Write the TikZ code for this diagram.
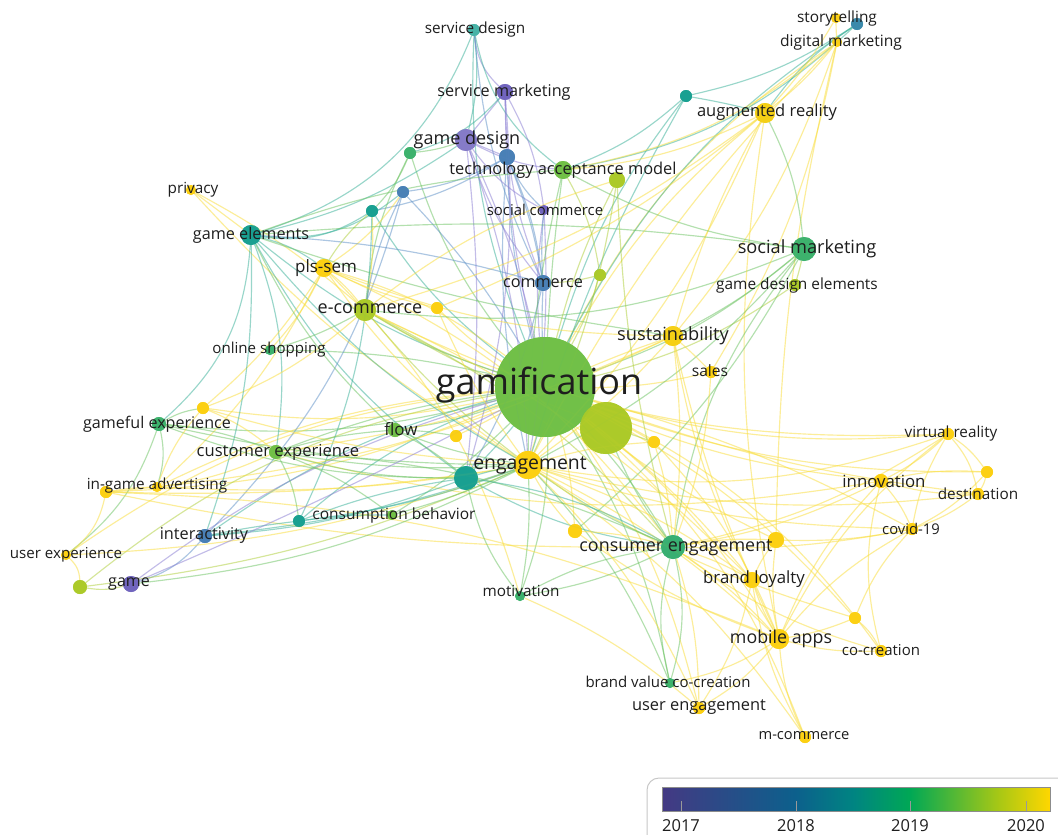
\documentclass[tikz,border=0pt]{standalone}
\usepackage{fontspec}
\setmainfont{Open Sans}
\newcommand\kwfs[1]{\fontsize{#1}{#1}\selectfont}
% overlay palette (publication year)
\definecolor{yA}{RGB}{68,57,131}
\definecolor{yB}{RGB}{12,96,140}
\definecolor{yBB}{RGB}{0,132,130}
\definecolor{yC}{RGB}{0,168,85}
\definecolor{yCC}{RGB}{170,200,20}
\definecolor{yD}{RGB}{255,215,0}
% node fills
\definecolor{nPur}{RGB}{112,100,190}
\definecolor{nBlu}{RGB}{72,128,182}
\definecolor{nTea}{RGB}{24,160,145}
\definecolor{nGrn}{RGB}{60,178,108}
\definecolor{nLgr}{RGB}{112,192,70}
\definecolor{nYgr}{RGB}{172,202,40}
\definecolor{nYel}{RGB}{252,208,18}
% edge colours
\definecolor{ey}{RGB}{250,222,60}
\definecolor{eg}{RGB}{110,196,100}
\definecolor{et}{RGB}{60,178,155}
\definecolor{ep}{RGB}{140,128,212}
\definecolor{eb}{RGB}{96,146,200}
\definecolor{eyg}{RGB}{176,208,60}
\definecolor{txt}{RGB}{30,30,30}
\tikzset{
  bub/.style={circle,inner sep=0pt,fill opacity=.92,draw=none},
  lbl/.style={text=txt,inner sep=0pt,font=\kwfs{15}},
  link/.style={line width=1.15pt,draw opacity=.52},
  yrlbl/.style={text=txt,inner sep=0pt,font=\kwfs{16.5}}
}
\begin{document}
\begin{tikzpicture}[x=1pt,y=-1pt]
\useasboundingbox (0,0) rectangle (1058,835);
\fill[white] (0,0) rectangle (1058,835);

% ---------- keywords ----------
\node[bub,fill=nLgr,minimum size=100pt,fill opacity=.88] (gam) at (545,387) {};
\node[bub,fill=nYgr,minimum size=52pt] (big2) at (606,428) {};
\node[bub,fill=nYel,minimum size=28pt] (eng) at (528,465) {};
\node[bub,fill=nTea,minimum size=24pt] (engt) at (466,478) {};
\node[bub,fill=nGrn!85!nTea,minimum size=24pt] (ce) at (673,547) {};
\node[bub,fill=nGrn,minimum size=24pt] (sm) at (804,249) {};
\node[bub,fill=nPur!85!white,minimum size=22pt] (gd) at (466,140) {};
\node[bub,fill=nPur,minimum size=16pt] (svm) at (505,92) {};
\node[bub,fill=nTea!80!white,minimum size=12pt] (sd) at (474,30) {};
\node[bub,fill=nBlu,minimum size=16pt] (tb) at (507,157) {};
\node[bub,fill=nLgr,minimum size=18pt] (tam) at (563,170) {};
\node[bub,fill=nYgr,minimum size=16pt] (tam2) at (617,180) {};
\node[bub,fill=nGrn,minimum size=12pt] (g1) at (410,153) {};
\node[bub,fill=nBlu,minimum size=12pt] (b1) at (403,192) {};
\node[bub,fill=nTea,minimum size=12pt] (t1) at (372,211) {};
\node[bub,fill=nYel,minimum size=10pt] (priv) at (191,190) {};
\node[bub,fill=nTea,minimum size=20pt] (ge) at (251,235) {};
\node[bub,fill=nYel,minimum size=18pt] (pls) at (324,268) {};
\node[bub,fill=nYgr,minimum size=22pt] (ecom) at (365,310) {};
\node[bub,fill=nYel,minimum size=12pt] (y1) at (437,308) {};
\node[bub,fill=nGrn,minimum size=10pt] (os) at (270,350) {};
\node[bub,fill=nPur,minimum size=10pt] (sc) at (544,210) {};
\node[bub,fill=nBlu,minimum size=16pt] (com) at (543,283) {};
\node[bub,fill=nYgr,minimum size=12pt] (yg1) at (600,275) {};
\node[bub,fill=nTea,minimum size=12pt] (t2) at (686,96) {};
\node[bub,fill=nYel!90!nYgr,minimum size=20pt] (ar) at (765,113) {};
\node[bub,fill=nYel,minimum size=10pt] (st) at (836,18) {};
\node[bub,fill=nBlu!70!nTea,minimum size=12pt] (st2) at (857,24) {};
\node[bub,fill=nYel,minimum size=10pt] (dm) at (837,42) {};
\node[bub,fill=nYgr,minimum size=12pt] (gde) at (795,285) {};
\node[bub,fill=nYel!92!nYgr,minimum size=20pt] (sus) at (673,336) {};
\node[bub,fill=nYel,minimum size=12pt] (sales) at (711,372) {};
\node[bub,fill=nGrn,minimum size=14pt] (gfe) at (159,424) {};
\node[bub,fill=nYel,minimum size=12pt] (y2) at (203,408) {};
\node[bub,fill=nLgr,minimum size=14pt] (flow) at (395,430) {};
\node[bub,fill=nYel,minimum size=12pt] (y3) at (456,436) {};
\node[bub,fill=nLgr,minimum size=14pt] (cx) at (276,452) {};
\node[bub,fill=nYel,minimum size=12pt] (y4) at (654,442) {};
\node[bub,fill=nYel,minimum size=12pt] (iga) at (106,492) {};
\node[bub,fill=nYel,minimum size=10pt] (iga2) at (157,487) {};
\node[bub,fill=nTea,minimum size=12pt] (cb) at (299,521) {};
\node[bub,fill=nLgr,minimum size=10pt] (cb2) at (392,515) {};
\node[bub,fill=nBlu,minimum size=14pt] (inter) at (205,536) {};
\node[bub,fill=nYel,minimum size=10pt] (ux) at (66,555) {};
\node[bub,fill=nYgr,minimum size=14pt] (yg2) at (80,587) {};
\node[bub,fill=nPur,minimum size=16pt] (game) at (131,584) {};
\node[bub,fill=nGrn,minimum size=10pt] (mot) at (520,596) {};
\node[bub,fill=nYel,minimum size=14pt] (y5) at (575,531) {};
\node[bub,fill=nYel,minimum size=16pt] (y6) at (776,540) {};
\node[bub,fill=nYel,minimum size=16pt] (bl) at (752,580) {};
\node[bub,fill=nYel,minimum size=12pt] (vr) at (948,434) {};
\node[bub,fill=nYel,minimum size=12pt] (y7) at (987,472) {};
\node[bub,fill=nYel,minimum size=14pt] (inn) at (881,481) {};
\node[bub,fill=nYel,minimum size=12pt] (dest) at (978,494) {};
\node[bub,fill=nYel,minimum size=12pt] (cov) at (912,529) {};
\node[bub,fill=nYel,minimum size=12pt] (y8) at (855,618) {};
\node[bub,fill=nYel,minimum size=20pt] (ma) at (779,639) {};
\node[bub,fill=nYel,minimum size=12pt] (cc) at (881,651) {};
\node[bub,fill=nGrn,minimum size=10pt] (bvc) at (670,683) {};
\node[bub,fill=nYel,minimum size=12pt] (ue) at (699,708) {};
\node[bub,fill=nYel,minimum size=12pt] (mc) at (805,737) {};

% ---------- links ----------
\foreach \a/\b/\bd/\c in {
  gam/sd/12/et, gam/svm/6/ep, gam/gd/-6/ep, gam/tb/6/eb, gam/tam/2/eg, gam/tam2/6/eyg,
  gam/g1/10/eg, gam/b1/-6/eb, gam/t1/10/et, gam/ge/10/et, gam/pls/-10/ey, gam/ecom/6/eyg,
  gam/y1/6/ey, gam/os/-6/eg, gam/sc/6/ep, gam/com/2/eb, gam/yg1/-6/eyg, gam/t2/10/et,
  gam/ar/10/ey, gam/dm/14/ey, gam/st2/14/et, gam/sm/-10/eg, gam/gde/-10/eyg, gam/sus/2/ey,
  gam/sales/-6/ey, gam/gfe/10/eg, gam/y2/10/ey, gam/flow/6/eg, gam/y3/2/ey, gam/cx/-6/eg,
  gam/eng/2/ey, gam/engt/2/et, gam/y4/2/ey, gam/iga/10/ey, gam/iga2/-10/ey, gam/cb/-10/et,
  gam/cb2/6/eg, gam/inter/-10/et, gam/ux/-14/ey, gam/yg2/-14/eyg, gam/game/-10/ep,
  gam/mot/10/eg, gam/y5/6/ey, gam/ce/6/eg, gam/y6/-6/ey, gam/bl/6/ey, gam/vr/-10/ey,
  gam/y7/-10/ey, gam/inn/-8/ey, gam/dest/-6/ey, gam/cov/6/ey, gam/y8/10/ey, gam/ma/10/ey,
  gam/cc/14/ey, gam/bvc/10/eg, gam/ue/10/ey, gam/mc/14/ey,
  priv/ecom/6/ey, priv/eng/-8/ey, priv/ge/0/ey,
  sd/gd/10/et, sd/svm/-20/ep, sd/tam/-20/et, sd/ge/25/et, sd/com/-10/eb,
  svm/gd/0/ep, svm/com/-10/ep, svm/sc/10/ep, svm/engt/10/ep, svm/g1/15/et,
  gd/com/-10/ep, gd/engt/6/ep, gd/tb/0/ep, gd/tam/-10/ep, gd/ge/10/et, gd/g1/6/eg, gd/sc/-12/ep,
  gd/eng/8/ep, tb/sc/-10/eb, tb/com/6/eb, tb/b1/10/eb, tb/t1/10/eb, tb/eng/-8/eb,
  ge/t1/-20/et, ge/b1/-22/et, ge/pls/10/et, ge/gfe/22/et, ge/eng/-10/et, ge/sus/-5/eg,
  ge/cx/14/et, ge/engt/-12/et,
  g1/t1/10/eg, g1/ecom/-10/eg, t1/ecom/6/ey, t1/cb/12/et, b1/inter/14/eb, t1/pls/-8/eyg,
  pls/ecom/6/ey, pls/eng/-10/ey, pls/sus/-10/ey, pls/ce/14/ey, pls/mot/14/ey, pls/iga2/10/ey,
  pls/y2/8/ey, pls/os/8/ey, pls/b1/-10/ey,
  ecom/os/6/eg, ecom/eng/-6/eyg, ecom/sm/-14/eg, ecom/y4/-6/eyg, ecom/ce/10/eyg, ecom/b1/8/eb,
  t2/ar/2/et, t2/st2/-10/et, t2/tam/10/et, t2/eng/-6/et,
  st2/ar/-10/et, st2/tam/16/et, dm/ar/6/ey, dm/sus/10/ey, dm/sales/10/ey, dm/st/2/ey,
  st/ar/6/ey, dm/y6/-6/ey, dm/tam/14/ey, dm/eng/-8/ey,
  ar/tam/10/ey, ar/sm/10/eg, ar/sus/-6/ey, ar/eng/10/ey, ar/ma/-10/ey, ar/y1/8/ey, ar/ecom/10/ey,
  sm/sus/6/eg, sm/eng/10/eg, sm/ce/-14/eg, sm/tam/10/eg, sm/gde/2/eyg, sm/y5/10/eg, sm/ge/-6/eg,
  sus/sales/2/ey, sus/ce/6/ey, sus/ma/-6/ey, sus/eng/6/ey, sus/bl/-8/ey, sus/cx/8/ey,
  vr/y7/10/ey, vr/dest/14/ey, vr/inn/8/ey, vr/cov/-10/ey, vr/eng/14/ey, vr/ce/10/ey, vr/ecom/14/ey,
  vr/ma/-12/ey, y7/dest/8/ey, y7/inn/-8/ey, y7/cov/10/ey, inn/dest/-8/ey, inn/cov/8/ey,
  inn/ce/8/ey, inn/ma/-10/ey, inn/cx/12/ey, dest/cov/8/ey, dest/eng/10/ey, cov/ma/-10/ey,
  cov/y6/6/ey, cov/ce/6/ey, cov/eng/8/ey, cov/y8/-10/ey, y8/ma/6/ey, y8/cc/10/ey, y8/eng/8/ey,
  cc/ma/8/ey, cc/ce/10/ey, cc/inn/14/ey,
  ma/bl/6/ey, ma/ce/-6/ey, ma/y6/8/ey, ma/ue/10/ey, ma/mc/-10/ey, ma/eng/-8/ey, ma/y5/8/ey,
  ma/bvc/10/ey, ma/iga/-10/ey,
  ce/bvc/14/eg, ce/bvc/-14/eg, ce/ue/8/ey, ce/y6/6/ey, ce/bl/6/ey, ce/eng/6/eg, ce/engt/10/et,
  ce/big2/6/eg, ce/cx/-10/eg, ce/sales/-8/ey, ce/mot/-10/eg,
  bl/y6/6/ey, bl/eng/-8/ey, bl/ue/10/ey, bl/mc/-10/ey, bl/ecom/-10/ey,
  ue/eng/-10/ey, mc/eng/-10/ey, bvc/eng/-10/eg, ue/mot/-8/ey,
  gfe/y2/10/eg, gfe/iga2/14/eg, gfe/ux/16/eg, gfe/cx/8/eg, gfe/eng/-6/eg, gfe/engt/-10/eg,
  y2/iga2/-10/ey, y2/eng/-6/ey, y2/cx/8/ey, y2/ecom/-10/ey,
  iga/ux/20/ey, iga/iga2/4/ey, iga/eng/-5/ey, iga/sus/-10/ey, iga2/eng/-6/ey, iga2/cx/-8/ey,
  iga/ce/-6/ey,
  cx/eng/-6/eg, cx/engt/-8/eg, cx/cb/10/eg, cx/flow/6/eg, cx/cb2/8/eg,
  inter/cb/2/et, inter/game/16/eb, inter/eng/-6/et, inter/engt/-8/et, inter/ge/-10/et,
  ux/yg2/22/ey, ux/eng/-8/ey, yg2/game/-12/eyg, yg2/eng/-8/eyg, game/eng/-10/eg, game/gam/-2/ep,
  cb/engt/6/et, cb/eng/-6/et, cb/cb2/4/et, cb2/eng/-4/eg,
  flow/eng/-6/eg, flow/engt/6/eg, flow/y3/4/eg, flow/ge/10/eg,
  mot/engt/12/eg, mot/eng/-6/eg, mot/ce/-8/eg,
  engt/ce/10/et, engt/eng/4/et, y5/eng/6/ey, y5/ce/6/ey, y4/eng/-6/ey, y4/ce/6/ey, y4/ma/10/ey,
  yg1/com/6/eyg, yg1/tam/-10/eyg, com/sc/4/eb, com/engt/8/eb, com/tb/-8/eb, com/ge/-6/eb,
  y1/pls/6/ey, y1/eng/-6/ey, sc/eng/6/ep, tam/eng/-6/eg, tam2/eng/8/eyg, tam2/ce/-6/eyg,
  tam/ge/-8/eg, tam2/ecom/-10/ey}
  {\draw[link,\c] (\a) to[bend left=\bd] (\b);}

% ---------- circles redrawn on top of links ----------
\foreach \n/\s/\f in {gam/100/nLgr, big2/52/nYgr, eng/28/nYel, engt/24/nTea, ce/24/nGrn!85!nTea,
  sm/24/nGrn, gd/22/nPur!85!white, svm/16/nPur, sd/12/nTea!80!white, tb/16/nBlu, tam/18/nLgr,
  tam2/16/nYgr, g1/12/nGrn, b1/12/nBlu, t1/12/nTea, priv/10/nYel, ge/20/nTea, pls/18/nYel,
  ecom/22/nYgr, y1/12/nYel, os/10/nGrn, sc/10/nPur, com/16/nBlu, yg1/12/nYgr, t2/12/nTea,
  ar/20/nYel!90!nYgr, st/10/nYel, st2/12/nBlu!70!nTea, dm/10/nYel, gde/12/nYgr,
  sus/20/nYel!92!nYgr, sales/12/nYel, gfe/14/nGrn, y2/12/nYel, flow/14/nLgr, y3/12/nYel,
  cx/14/nLgr, y4/12/nYel, iga/12/nYel, iga2/10/nYel, cb/12/nTea, cb2/10/nLgr, inter/14/nBlu,
  ux/10/nYel, yg2/14/nYgr, game/16/nPur, mot/10/nGrn, y5/14/nYel, y6/16/nYel, bl/16/nYel,
  vr/12/nYel, y7/12/nYel, inn/14/nYel, dest/12/nYel, cov/12/nYel, y8/12/nYel, ma/20/nYel,
  cc/12/nYel, bvc/10/nGrn, ue/12/nYel, mc/12/nYel}
  {\fill[\f,fill opacity=.9] (\n) circle[radius=\s/2];}

% ---------- labels ----------
\node[lbl,font=\kwfs{36}] (Lgam) at (539,385) {gamification};
\node[lbl,font=\kwfs{19.4}] (Leng) at (530,465) {engagement};
\node[lbl,font=\kwfs{17.9}] (Lce) at (676,548) {consumer engagement};
\node[lbl,font=\kwfs{18.2}] (Lsm) at (807,249) {social marketing};
\node[lbl,font=\kwfs{18}] (Lgd) at (467,140) {game design};
\node[lbl,font=\kwfs{16.2}] (Lsvm) at (504,92) {service marketing};
\node[lbl,font=\kwfs{15.3}] (Lsd) at (475,30) {service design};
\node[lbl,font=\kwfs{16.4}] (Ltam) at (563,170) {technology acceptance model};
\node[lbl,font=\kwfs{14.9}] (Lsc) at (545,210) {social commerce};
\node[lbl,font=\kwfs{15.3}] (Lpriv) at (193,190) {privacy};
\node[lbl,font=\kwfs{16.2}] (Lge) at (251,235) {game elements};
\node[lbl,font=\kwfs{17}] (Lpls) at (326,268) {pls-sem};
\node[lbl,font=\kwfs{18}] (Lecom) at (370,309) {e-commerce};
\node[lbl,font=\kwfs{15.1}] (Los) at (269,350) {online shopping};
\node[lbl,font=\kwfs{16.2}] (Lcom) at (543,283) {commerce};
\node[lbl,font=\kwfs{16.5}] (Lar) at (767,112) {augmented reality};
\node[lbl,font=\kwfs{15.4}] (Lst) at (837,18) {storytelling};
\node[lbl,font=\kwfs{15.6}] (Ldm) at (841,42) {digital marketing};
\node[lbl,font=\kwfs{15.4}] (Lgde) at (797,285) {game design elements};
\node[lbl,font=\kwfs{18.2}] (Lsus) at (673,336) {sustainability};
\node[lbl,font=\kwfs{15.6}] (Lsales) at (710,371) {sales};
\node[lbl,font=\kwfs{16.1}] (Lgfe) at (157,424) {gameful experience};
\node[lbl,font=\kwfs{17}] (Lflow) at (401,429) {flow};
\node[lbl,font=\kwfs{16.6}] (Lcx) at (278,452) {customer experience};
\node[lbl,font=\kwfs{15.3}] (Liga) at (157,486) {in-game advertising};
\node[lbl,font=\kwfs{15.5}] (Lcb) at (394,515) {consumption behavior};
\node[lbl,font=\kwfs{16.3}] (Linter) at (204,535) {interactivity};
\node[lbl,font=\kwfs{15.1}] (Lux) at (66,555) {user experience};
\node[lbl,font=\kwfs{16}] (Lgame) at (129,584) {game};
\node[lbl,font=\kwfs{15.3}] (Lmot) at (521,591) {motivation};
\node[lbl,font=\kwfs{16.8}] (Lbl) at (754,579) {brand loyalty};
\node[lbl,font=\kwfs{15.3}] (Lvr) at (951,434) {virtual reality};
\node[lbl,font=\kwfs{16.8}] (Linn) at (884,481) {innovation};
\node[lbl,font=\kwfs{15.3}] (Ldest) at (978,494) {destination};
\node[lbl,font=\kwfs{14.8}] (Lcov) at (911,529) {covid-19};
\node[lbl,font=\kwfs{17.8}] (Lma) at (781,639) {mobile apps};
\node[lbl,font=\kwfs{15}] (Lcc) at (881,650) {co-creation};
\node[lbl,font=\kwfs{15}] (Lbvc) at (668,682) {brand value co-creation};
\node[lbl,font=\kwfs{16.4}] (Lue) at (699,707) {user engagement};
\node[lbl,font=\kwfs{14.7}] (Lmc) at (804,736) {m-commerce};

% ---------- colour scale ----------
\draw[black!22,line width=1pt,rounded corners=12pt] (647,778) rectangle (1080,850);
\shade[left color=yA,right color=yA!70!yB] (662,787) rectangle (700,811);
\shade[left color=yA!70!yB,right color=yB] (700,787) rectangle (796,811);
\shade[left color=yB,right color=yBB] (796,787) rectangle (853,811);
\shade[left color=yBB,right color=yC] (853,787) rectangle (910,811);
\shade[left color=yC,right color=yCC] (910,787) rectangle (1000,811);
\shade[left color=yCC,right color=yD] (1000,787) rectangle (1050,811);
\draw[black!45,line width=.9pt] (662,787) rectangle (1050,811);
\foreach \x/\yr in {681/2017, 796/2018, 910/2019, 1026/2020}{
  \draw[black!40,line width=1pt] (\x,811) -- (\x,801);
  \node[yrlbl] (yr\yr) at (\x,826) {\yr};
}
\end{tikzpicture}
\end{document}
